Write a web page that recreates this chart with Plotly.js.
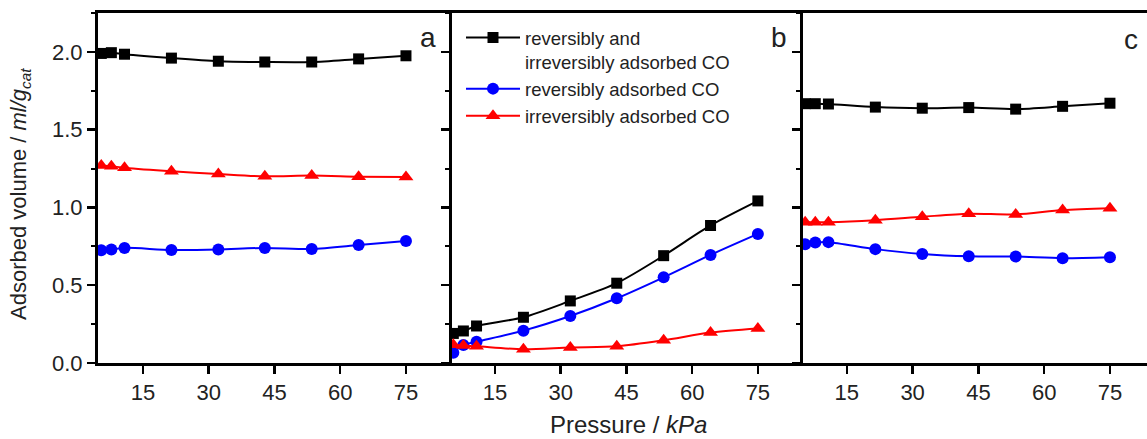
<!DOCTYPE html>
<html>
<head>
<meta charset="utf-8">
<script src="https://cdn.plot.ly/plotly-3.0.1.min.js"></script>
<style>html,body{margin:0;padding:0;background:#fff;overflow:hidden}</style>
</head>
<body>
<div id="chart" style="width:1147px;height:439px"></div>
<script>
// Pressure (kPa)
const pressure = [5.5, 7.8, 10.8, 21.5, 32.2, 42.8, 53.5, 64.2, 75];

// Panel a
const aTotal = [1.99, 1.995, 1.985, 1.96, 1.94, 1.935, 1.935, 1.955, 1.975];
const aRev   = [0.725, 0.73, 0.74, 0.727, 0.73, 0.74, 0.733, 0.758, 0.785];
const aIrrev = [1.27, 1.265, 1.255, 1.232, 1.215, 1.2, 1.205, 1.198, 1.195];

// Panel b
const bTotal = [0.19, 0.206, 0.238, 0.294, 0.399, 0.513, 0.69, 0.884, 1.042];
const bRev   = [0.066, 0.116, 0.137, 0.208, 0.302, 0.416, 0.551, 0.695, 0.83];
const bIrrev = [0.118, 0.112, 0.108, 0.088, 0.1, 0.107, 0.146, 0.196, 0.222];

// Panel c
const cTotal = [1.667, 1.667, 1.665, 1.645, 1.638, 1.642, 1.632, 1.65, 1.67];
const cRev   = [0.764, 0.774, 0.777, 0.732, 0.701, 0.686, 0.684, 0.674, 0.68];
const cIrrev = [0.905, 0.905, 0.905, 0.918, 0.94, 0.96, 0.955, 0.983, 0.995];

const seriesNames = ['reversibly and<br>irreversibly adsorbed CO', 'reversibly adsorbed CO', 'irreversibly adsorbed CO'];
const panelLabels = ['a', 'b', 'c'];
const xTicks = [15, 30, 45, 60, 75];

const colors = ['#000000', '#0000ff', '#ff0000'];
const symbols = ['square', 'circle', 'triangle-up'];
const msizes = [11, 12, 13];

const panels = [[aTotal, aRev, aIrrev], [bTotal, bRev, bIrrev], [cTotal, cRev, cIrrev]];
const axSuffix = ['', '2', '3'];

const traces = [];
panels.forEach((p, pi) => {
  p.forEach((ys, si) => {
    traces.push({
      x: pressure, y: ys, type: 'scatter', mode: 'lines+markers',
      xaxis: 'x' + axSuffix[pi], yaxis: 'y' + axSuffix[pi],
      name: seriesNames[si], legendgroup: 's' + si,
      showlegend: pi === 1,
      line: {color: colors[si], width: 2, shape: 'spline', smoothing: 0.8},
      marker: {color: colors[si], symbol: symbols[si], size: msizes[si]},
      hoverinfo: 'x+y'
    });
  });
});

const W = 1147, H = 439, L = 98, T = 13, B = 76;
const pw = W - L, ph = H - T - B;
const px = v => (v - L) / pw;
const py = v => (H - B - v) / ph;

const FAM = 'Liberation Sans, Arial, sans-serif';
const tickFont = {family: FAM, size: 22, color: '#222'};

function xax(domain, range) {
  return {
    domain: domain, range: range, tickvals: xTicks, ticktext: xTicks.map(String),
    ticks: 'outside', ticklen: 8, tickwidth: 2.5, tickcolor: '#000',
    showline: true, linewidth: 3, linecolor: '#000', mirror: true,
    showgrid: false, zeroline: false, tickfont: tickFont, fixedrange: true
  };
}
function yax(anchor, labels) {
  return {
    anchor: anchor, range: [0, 2.25], dtick: 0.5, tick0: 0, tickformat: '.1f',
    ticks: 'outside', ticklen: 8, tickwidth: 2.5, tickcolor: '#000',
    minor: {dtick: 0.25, ticks: 'outside', ticklen: 4, tickwidth: 2, tickcolor: '#000'},
    showline: true, linewidth: 3, linecolor: '#000', mirror: false,
    showgrid: false, zeroline: false, showticklabels: labels, tickfont: tickFont, fixedrange: true
  };
}

const d1 = px(452), d2 = px(803);

const layout = {
  width: W, height: H,
  margin: {l: L, r: 0, t: T, b: B, pad: 0},
  paper_bgcolor: '#fff', plot_bgcolor: '#fff',
  font: {family: FAM, color: '#222'},
  xaxis: Object.assign(xax([0, d1], [4.75, 85.5]), {anchor: 'y'}),
  xaxis2: Object.assign(xax([d1, d2], [5.2, 85.3]), {anchor: 'y2'}),
  xaxis3: Object.assign(xax([d2, 1], [5.0, 83.45]), {anchor: 'y3'}),
  yaxis: yax('x', true),
  yaxis2: yax('x2', false),
  yaxis3: yax('x3', false),
  showlegend: true,
  legend: {
    x: px(461), y: py(19), xanchor: 'left', yanchor: 'top',
    bgcolor: 'rgba(0,0,0,0)', borderwidth: 0,
    font: {family: FAM, size: 18.5, color: '#222'},
    itemwidth: 54, valign: 'top', tracegroupgap: 0, traceorder: 'normal'
  },
  annotations: [
    {text: 'Adsorbed volume / <i>ml/g</i><sub><i>cat</i></sub>', xref: 'paper', yref: 'paper',
     x: px(20), y: py(194), textangle: -90, showarrow: false, xanchor: 'center', yanchor: 'middle',
     font: {family: FAM, size: 22, color: '#222'}},
    {text: 'Pressure / <i>kPa</i>', xref: 'paper', yref: 'paper',
     x: px(628), y: py(425), showarrow: false, xanchor: 'center', yanchor: 'middle',
     font: {family: FAM, size: 24, color: '#222'}},
    {text: panelLabels[0], xref: 'paper', yref: 'paper', x: px(428), y: py(38), showarrow: false,
     xanchor: 'center', yanchor: 'middle', font: {family: FAM, size: 28, color: '#222'}},
    {text: panelLabels[1], xref: 'paper', yref: 'paper', x: px(779), y: py(37), showarrow: false,
     xanchor: 'center', yanchor: 'middle', font: {family: FAM, size: 28, color: '#222'}},
    {text: panelLabels[2], xref: 'paper', yref: 'paper', x: px(1131), y: py(39), showarrow: false,
     xanchor: 'center', yanchor: 'middle', font: {family: FAM, size: 28, color: '#222'}}
  ]
};

Plotly.newPlot('chart', traces, layout, {displayModeBar: false, staticPlot: true});
</script>
</body>
</html>
